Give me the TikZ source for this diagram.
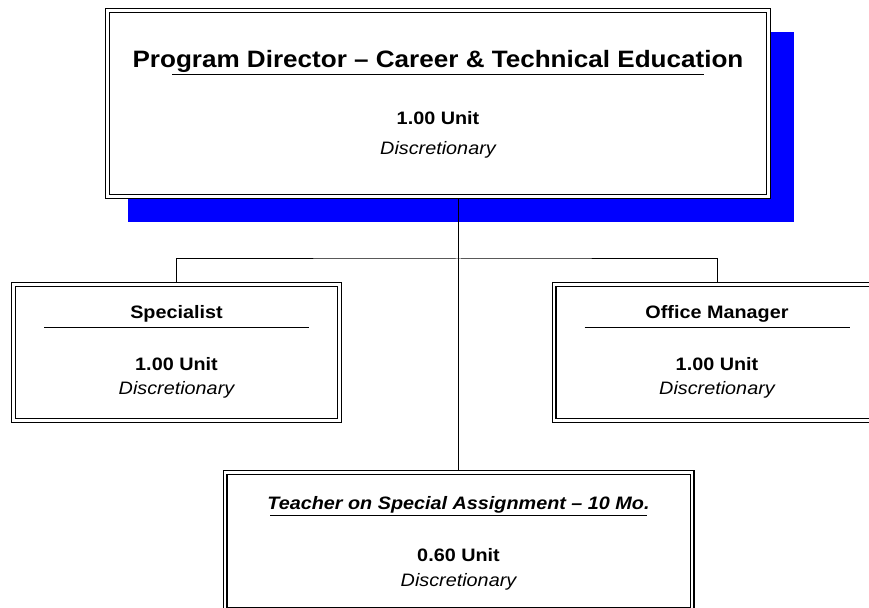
\documentclass[tikz,border=0pt]{standalone}
\usepackage{fontspec}
\setmainfont{Liberation Sans}[FakeStretch=1.1]
\usetikzlibrary{positioning,backgrounds}

\begin{document}
\begin{tikzpicture}[x=1pt,y=1pt,
    post/.style={draw,line width=1.2pt,double,double distance=2.6pt,fill=white,inner sep=0pt,outer sep=2.5pt},
    link/.style={line width=1pt},
    rule/.style={line width=1pt},
    head/.style={anchor=base,inner sep=0pt,font=\fontsize{23.7}{26}\selectfont\bfseries},
    role/.style={anchor=base,inner sep=0pt,font=\fontsize{18}{20}\selectfont\bfseries},
    unit/.style={anchor=base,inner sep=0pt,font=\fontsize{18}{20}\selectfont\bfseries},
    kind/.style={anchor=base,inner sep=0pt,font=\fontsize{18}{20}\selectfont\itshape}]
    \useasboundingbox (0,0) rectangle (869,607);
    \clip (0,0) rectangle (869,607);

    % director
    \node[post, minimum width=661pt, minimum height=186pt] (dir) at (438,503.5) {};
    \begin{scope}[on background layer]
        \fill[blue] ([shift={(23,-23)}]dir.south west) rectangle ([shift={(23,-24)}]dir.north east);
    \end{scope}
    \node[head] (dir-title) at (438,539.5) {Program Director – Career \& Technical Education};
    \draw[rule] (172,532) -- (704,532);
    \node[unit] (dir-unit) at (438,482) {1.00 Unit};
    \node[kind] (dir-kind) at (438,452.5) {Discretionary};

    % second row
    \foreach \n/\cx/\ttl in {spec/176.5/Specialist, mgr/717/Office Manager} {
        \node[post, minimum width=326pt, minimum height=136pt] (\n) at (\cx,254.5) {};
        \node[role] (\n-title) at (\cx,288) {\ttl};
        \draw[rule] (\cx-132.5,279) -- (\cx+132.5,279);
        \node[unit] (\n-unit) at (\cx,236) {1.00 Unit};
        \node[kind] (\n-kind) at (\cx,212) {Discretionary};
    }

    % teacher
    \node[post, minimum width=467pt, minimum height=137pt] (tosa) at (458.5,66) {};
    \node[role] (tosa-title) at (458.5,97) {\itshape Teacher on Special Assignment – 10 Mo.};
    \draw[rule] (270,91.3) -- (647,91.3);
    \node[unit] (tosa-unit) at (458.5,45.3) {0.60 Unit};
    \node[kind] (tosa-kind) at (458.5,20.3) {Discretionary};

    % connectors
    \coordinate (hub) at (458.5,348);
    \draw[link] (dir.south -| tosa.north) -- (tosa.north);
    \draw[link] (spec.north) |- (hub) -| (mgr.north);
\end{tikzpicture}
\end{document}
